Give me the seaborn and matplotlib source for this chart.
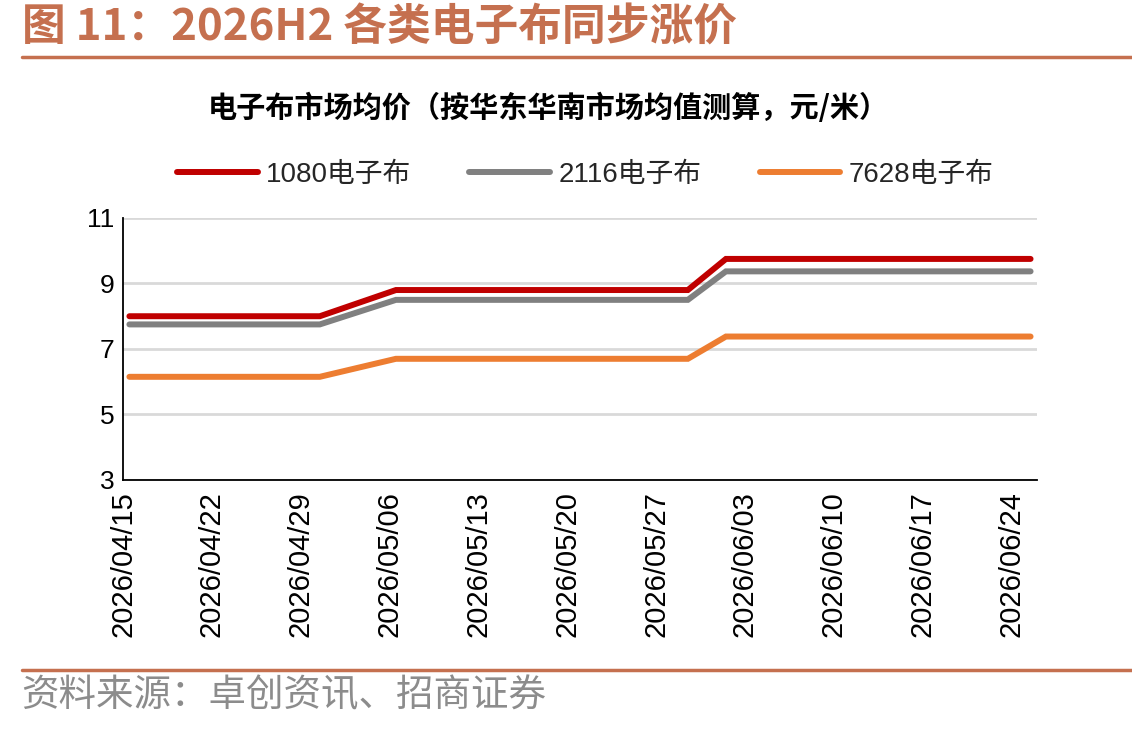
import numpy as np
import pandas as pd
import matplotlib
matplotlib.use("Agg")
import matplotlib.pyplot as plt
import matplotlib.dates as mdates
import seaborn as sns

# break-point dates of the price series (flat segments in between)
dates = ["2026-04-15", "2026-04-30", "2026-05-06", "2026-05-29", "2026-06-01", "2026-06-25"]
price_1080 = [8.0, 8.0, 8.8, 8.8, 9.75, 9.75]
price_2116 = [7.75, 7.75, 8.5, 8.5, 9.37, 9.37]
price_7628 = [6.15, 6.15, 6.7, 6.7, 7.38, 7.38]
series_names = ["1080电子布", "2116电子布", "7628电子布"]
tick_dates = pd.date_range("2026-04-15", "2026-06-24", freq="7D")

title = "图 11：2026H2 各类电子布同步涨价"
chart_title = "电子布市场均价（按华东华南市场均值测算，元/米）"
source = "资料来源：卓创资讯、招商证券"

frames = []
for name, vals in zip(series_names, [price_1080, price_2116, price_7628]):
    frames.append(pd.DataFrame({"date": pd.to_datetime(dates) + pd.Timedelta(hours=12),
                                "price": vals, "series": name}))
df = pd.concat(frames, ignore_index=True)

sns.set_theme(style="white")
plt.rcParams['font.family'] = ['Liberation Sans', 'Noto Sans CJK SC', 'DejaVu Sans']
plt.rcParams['axes.unicode_minus'] = False

palette = {"1080电子布": "#C00000", "2116电子布": "#808080", "7628电子布": "#ED7D31"}
accent = "#C5704F"

fig = plt.figure(figsize=(11.32, 7.31), dpi=100)
ax = fig.add_axes([0.1087, 0.3434, 0.8073, 0.3584])

sns.lineplot(data=df, x="date", y="price", hue="series", palette=palette,
             linewidth=4.3, ax=ax, legend=True)
for ln in ax.lines:
    ln.set_solid_capstyle("round")
    ln.set_solid_joinstyle("miter")

ax.set_ylim(3, 11)
ax.set_yticks([3, 5, 7, 9, 11])
ax.set_xlim(pd.Timestamp("2026-04-15"), pd.Timestamp("2026-06-26"))
ax.set_xticks(tick_dates)
ax.xaxis.set_major_formatter(mdates.DateFormatter("%Y/%m/%d"))
ax.set_xlabel("")
ax.set_ylabel("")
ax.yaxis.grid(True, color="#D9D9D9", linewidth=2)
ax.set_axisbelow(True)
for s in ["top", "right"]:
    ax.spines[s].set_visible(False)
for s in ["left", "bottom"]:
    ax.spines[s].set_color("black")
    ax.spines[s].set_linewidth(1.3)
ax.tick_params(axis="both", direction="in", length=6, width=1.2, color="black",
               labelcolor="black")
ax.tick_params(axis="x", rotation=90, pad=8, labelsize=21)
ax.tick_params(axis="y", pad=6, labelsize=19)

handles, labels = ax.get_legend_handles_labels()
ax.legend(handles, labels, loc="center", bbox_to_anchor=(0.517, 0.7606),
          bbox_transform=fig.transFigure, ncol=3, frameon=False, fontsize=20,
          handlelength=2.9, handletextpad=0.3, columnspacing=2.1)

fig.text(0.019, 0.962, title, fontsize=31.5, fontweight="bold", color=accent,
         va="center", ha="left", family=["Noto Sans CJK SC", "DejaVu Sans"])
fig.add_artist(plt.Line2D([0.019, 1.0], [0.922, 0.922], transform=fig.transFigure,
                          color=accent, linewidth=2.5))
fig.text(0.484, 0.853, chart_title, fontsize=21, fontweight="bold", color="black",
         va="center", ha="center", family=["Noto Sans CJK SC", "DejaVu Sans"])
fig.add_artist(plt.Line2D([0.019, 1.0], [0.084, 0.084], transform=fig.transFigure,
                          color=accent, linewidth=2.5))
fig.text(0.019, 0.049, source, fontsize=27, color="#8C8C8C",
         va="center", ha="left", family=["Noto Sans CJK SC", "DejaVu Sans"])

fig.savefig("out.png", dpi=100)
